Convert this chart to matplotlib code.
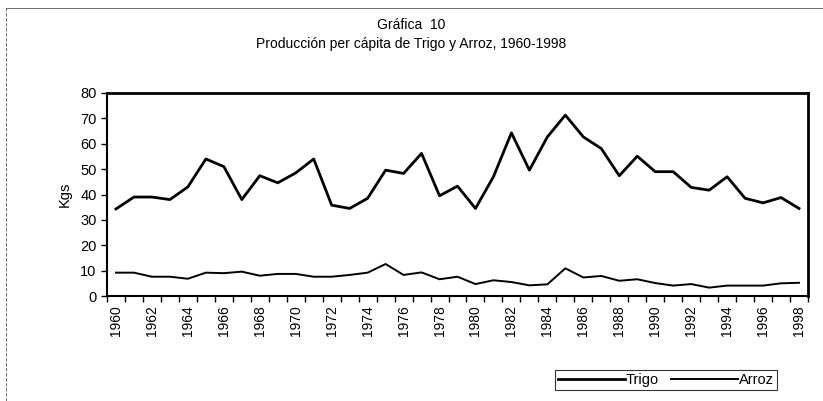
import matplotlib
matplotlib.use("Agg")
import matplotlib.pyplot as plt
import numpy as np

years = list(range(1960, 1999))
trigo = [34.3, 39.0, 39.0, 38.0, 43.0, 54.0, 51.0, 38.0, 47.4, 44.6, 48.5, 54.0,
         35.8, 34.5, 38.5, 49.6, 48.3, 56.2, 39.5, 43.3, 34.5, 47.0, 64.3, 49.6,
         62.7, 71.3, 62.7, 58.1, 47.4, 55.1, 49.0, 49.0, 42.8, 41.7, 47.0, 38.5,
         36.7, 38.8, 34.5]
arroz = [9.2, 9.2, 7.6, 7.6, 6.8, 9.2, 9.0, 9.6, 8.0, 8.7, 8.7, 7.6,
         7.6, 8.3, 9.2, 12.6, 8.3, 9.3, 6.6, 7.6, 4.7, 6.2, 5.5, 4.2,
         4.6, 10.9, 7.3, 7.9, 6.0, 6.6, 5.1, 4.1, 4.7, 3.3, 4.1, 4.1,
         4.1, 5.0, 5.2]
yticks = [0, 10, 20, 30, 40, 50, 60, 70, 80]

plt.rcParams['font.family'] = ['Liberation Sans', 'DejaVu Sans']

fig = plt.figure(figsize=(8.23, 4.01), dpi=100)
ax = fig.add_axes([107/823, 1-296/401, (808-107)/823, (296-93)/401])

x = np.arange(len(years))
ax.plot(x, trigo, color='black', lw=2.0, label='Trigo')
ax.plot(x, arroz, color='black', lw=1.4, label='Arroz')

ax.set_xlim(-0.5, len(years) - 0.5)
ax.set_ylim(0, 80)
ax.set_yticks(yticks)
ax.set_yticklabels([str(v) for v in yticks], fontsize=10.5)
ax.set_xticks(np.arange(-0.5, len(years), 1.0))
ax.set_xticklabels([])
ax.tick_params(axis='x', which='major', length=4, width=1, direction='out')
ax.tick_params(axis='y', length=4, width=1, direction='out')
for i, y in enumerate(years):
    if y % 2 == 0:
        ax.text(i, -3.5, str(y), rotation=90, ha='center', va='top', fontsize=10,
                transform=ax.transData, clip_on=False)

for s in ax.spines.values():
    s.set_linewidth(2.0)
ax.spines['left'].set_linewidth(1.5)
ax.spines['bottom'].set_linewidth(1.5)

ax.set_ylabel('Kgs', fontsize=10.5, labelpad=6)

fig.text(411/823, 1-25/401, 'Gráfica  10', ha='center', va='center', fontsize=10)
fig.text(411/823, 1-44/401, 'Producción per cápita de Trigo y Arroz, 1960-1998',
         ha='center', va='center', fontsize=10)

leg = fig.legend(loc='center', bbox_to_anchor=(666/823, 1-380/401), ncol=2,
                 frameon=True, fancybox=False, fontsize=10.5, handlelength=4.6,
                 handletextpad=0.1, columnspacing=0.8, borderpad=0.2,
                 borderaxespad=0)
leg.get_frame().set_edgecolor('black')
leg.get_frame().set_linewidth(0.8)

fig.add_artist(plt.Line2D([6/823, 6/823], [0, 1-8/401], color='#555555', lw=0.6,
                          linestyle=(0, (4, 2)), transform=fig.transFigure))
fig.add_artist(plt.Line2D([6/823, 1], [1-8/401, 1-8/401], color='#555555', lw=0.6,
                          transform=fig.transFigure))

fig.savefig('out.png', dpi=100, facecolor='white')
